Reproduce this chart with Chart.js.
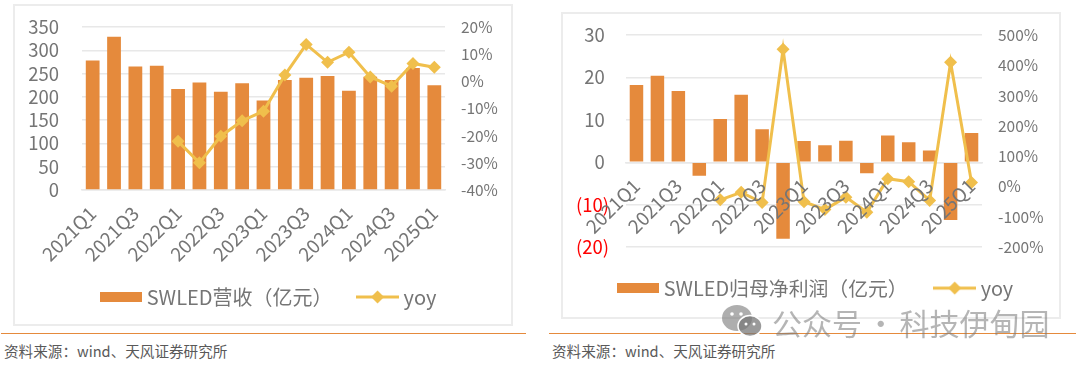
<!DOCTYPE html>
<html>
<head>
<meta charset="utf-8">
<script src="https://cdn.jsdelivr.net/npm/chart.js@4"></script>
<style>
  html, body { margin: 0; padding: 0; background: #fff; }
  body { width: 1080px; height: 366px; position: relative; overflow: hidden; font-family: "Noto Sans CJK SC", sans-serif; }
  .frame { position: absolute; box-sizing: border-box; border: 2px solid #ececec; }
  .holder { position: absolute; }
  .rule { position: absolute; top: 333px; height: 1px; background: #e58a3c; }
  .source { position: absolute; top: 341px; font-size: 14.6px; line-height: 20px; color: #595959; white-space: nowrap; }
  .mark { position: absolute; left: 772px; top: 300px; font-size: 30px; line-height: 44px; word-spacing: -3px; color: rgba(120,120,120,.55); white-space: nowrap; }
  .wechat { position: absolute; left: 722px; top: 305px; }
</style>
</head>
<body>
<div class="frame" style="left:13px;top:4px;width:500px;height:322px"></div>
<div class="frame" style="left:561px;top:12px;width:500px;height:307px"></div>
<div class="holder" style="left:13px;top:4px;width:500px;height:313px"><canvas id="revenueChart"></canvas></div>
<div class="holder" style="left:561px;top:12px;width:500px;height:296px"><canvas id="profitChart"></canvas></div>
<div class="rule" style="left:1px;width:525px"></div>
<div class="rule" style="left:549px;width:527px"></div>
<div class="source" style="left:4px">资料来源：wind、天风证券研究所</div>
<div class="source" style="left:552px">资料来源：wind、天风证券研究所</div>
<svg class="wechat" width="40" height="33" viewBox="0 0 40 33">
  <ellipse cx="15" cy="13" rx="15" ry="13" fill="rgba(120,120,120,.6)"/>
  <ellipse cx="28" cy="21" rx="12" ry="10.5" fill="rgba(120,120,120,.75)" stroke="#fff" stroke-width="1.5"/>
  <circle cx="10" cy="9" r="1.8" fill="#fff"/><circle cx="19" cy="9" r="1.8" fill="#fff"/>
  <circle cx="24" cy="19" r="1.5" fill="#fff"/><circle cx="32" cy="19" r="1.5" fill="#fff"/>
</svg>
<div class="mark">公众号 · 科技伊甸园</div>

<script>
const quarters = ["2021Q1","2021Q2","2021Q3","2021Q4","2022Q1","2022Q2","2022Q3","2022Q4","2023Q1","2023Q2","2023Q3","2023Q4","2024Q1","2024Q2","2024Q3","2024Q4","2025Q1"];
const revenue = [278,329,265,267,217,231,211,229,192,236,241,245,213,243,236,262,225];
const revenueYoy = [null,null,null,null,-22.1,-30,-20.2,-14.5,-11,2.3,13.6,7,10.7,1.6,-1.8,6.6,5.2];
const profit = [18.2,20.4,16.8,-3.2,10.2,15.9,7.8,-18,5,4,5.1,-2.6,6.3,4.7,2.8,-13.6,6.9];
const profitYoy = [null,null,null,null,-44,-19,-53,453,-50,-76,-35,-85,26,16,-46,410,13];

const BAR = '#e58a3c';
const LINE = '#f0bf4c';
const GRID = '#e8e8e8';
const TEXT = '#757575';
const FONT = '"Noto Sans CJK SC", sans-serif';

// legend swatches are small canvases so the bar/line keys keep the office look
function barKey() {
  const c = document.createElement('canvas');
  c.width = 42; c.height = 10;
  const g = c.getContext('2d');
  g.fillStyle = BAR;
  g.fillRect(0, 0, 42, 10);
  return c;
}
function lineKey() {
  const c = document.createElement('canvas');
  c.width = 43; c.height = 16;
  const g = c.getContext('2d');
  g.fillStyle = LINE;
  g.fillRect(0, 6.5, 43, 3);
  g.beginPath();
  g.moveTo(21.5, 1.5); g.lineTo(28, 8); g.lineTo(21.5, 14.5); g.lineTo(15, 8);
  g.closePath();
  g.fill();
  return c;
}

// tick padding would otherwise push the plot area down
function noOverhang(s, width) {
  s.width = width;
  s.paddingTop = 0;
  s.paddingBottom = 0;
}

function drawChart(id, opt) {
  new Chart(document.getElementById(id), {
    data: {
      labels: quarters,
      datasets: [
        { type: 'line', label: 'yoy', data: opt.yoy, yAxisID: 'y1', order: 0,
          borderColor: LINE, backgroundColor: LINE, borderWidth: 3, tension: 0,
          pointStyle: 'rectRot', pointRadius: 6.5, pointHoverRadius: 6.5, pointBorderWidth: 0 },
        { type: 'bar', label: opt.barName, data: opt.bars, yAxisID: 'y', order: 1,
          backgroundColor: BAR, barPercentage: 1, categoryPercentage: 0.645 }
      ]
    },
    options: {
      responsive: true,
      maintainAspectRatio: false,
      animation: false,
      layout: { padding: { top: 23, left: opt.padLeft } },
      plugins: {
        tooltip: { enabled: false },
        legend: {
          position: 'bottom',
          labels: {
            usePointStyle: true,
            pointStyleWidth: 32,
            padding: opt.legendPad,
            color: TEXT,
            font: { family: FONT, size: opt.legendSize },
            generateLabels: () => [
              { text: opt.barName, pointStyle: barKey(), fontColor: TEXT, datasetIndex: 1 },
              { text: 'yoy', pointStyle: lineKey(), fontColor: TEXT, datasetIndex: 0 }
            ]
          }
        }
      },
      scales: {
        // pinned to the zero line so the labels are not clipped to the axis box
        x: {
          position: { y: 0 },
          grid: { display: false },
          border: { color: GRID, width: 1.5 },
          ticks: {
            z: 1,
            autoSkip: false,
            minRotation: 45,
            maxRotation: 45,
            padding: 4,
            color: TEXT,
            font: { family: FONT, size: 19 },
            callback: (v, i) => (i % 2 ? '' : quarters[i])
          }
        },
        // empty axis, only holds the room between plot and legend
        gap: {
          type: 'category',
          axis: 'x',
          position: 'bottom',
          labels: [],
          grid: { display: false },
          border: { display: false },
          ticks: { display: false },
          afterFit: s => { s.height = opt.gap; }
        },
        y: {
          position: 'left',
          min: opt.min, max: opt.max,
          afterFit: s => noOverhang(s, opt.leftWidth),
          grid: { color: GRID, lineWidth: 1.5, drawTicks: false },
          border: { display: false },
          ticks: {
            autoSkip: false,
            stepSize: opt.step,
            padding: opt.leftPad,
            color: c => (c.tick.value < 0 ? '#ff0000' : TEXT),
            font: { family: FONT, size: 18.5 },
            callback: opt.leftLabel
          }
        },
        y1: {
          position: 'right',
          min: opt.yoyMin, max: opt.yoyMax,
          afterFit: s => noOverhang(s, opt.rightWidth),
          grid: { display: false, drawTicks: false },
          border: { display: false },
          ticks: {
            autoSkip: false,
            stepSize: opt.yoyStep,
            padding: 16,
            color: TEXT,
            font: { family: FONT, size: 15.5 },
            callback: v => v + '%'
          }
        }
      }
    }
  });
}

drawChart('revenueChart', {
  barName: 'SWLED营收（亿元）', bars: revenue, yoy: revenueYoy,
  min: 0, max: 350, step: 50, yoyMin: -40, yoyMax: 20, yoyStep: 10,
  legendPad: 29, legendSize: 20, padLeft: 15,
  gap: 68, leftWidth: 54, rightWidth: 68, leftPad: 23,
  leftLabel: v => v
});
drawChart('profitChart', {
  barName: 'SWLED归母净利润（亿元）', bars: profit, yoy: profitYoy,
  min: -20, max: 30, step: 10, yoyMin: -200, yoyMax: 500, yoyStep: 100,
  legendPad: 31, legendSize: 19.85, padLeft: 13,
  gap: 0, leftWidth: 52, rightWidth: 79, leftPad: 17,
  leftLabel: v => (v < 0 ? '(' + (-v) + ')' : v + ' ')
});
</script>
</body>
</html>
